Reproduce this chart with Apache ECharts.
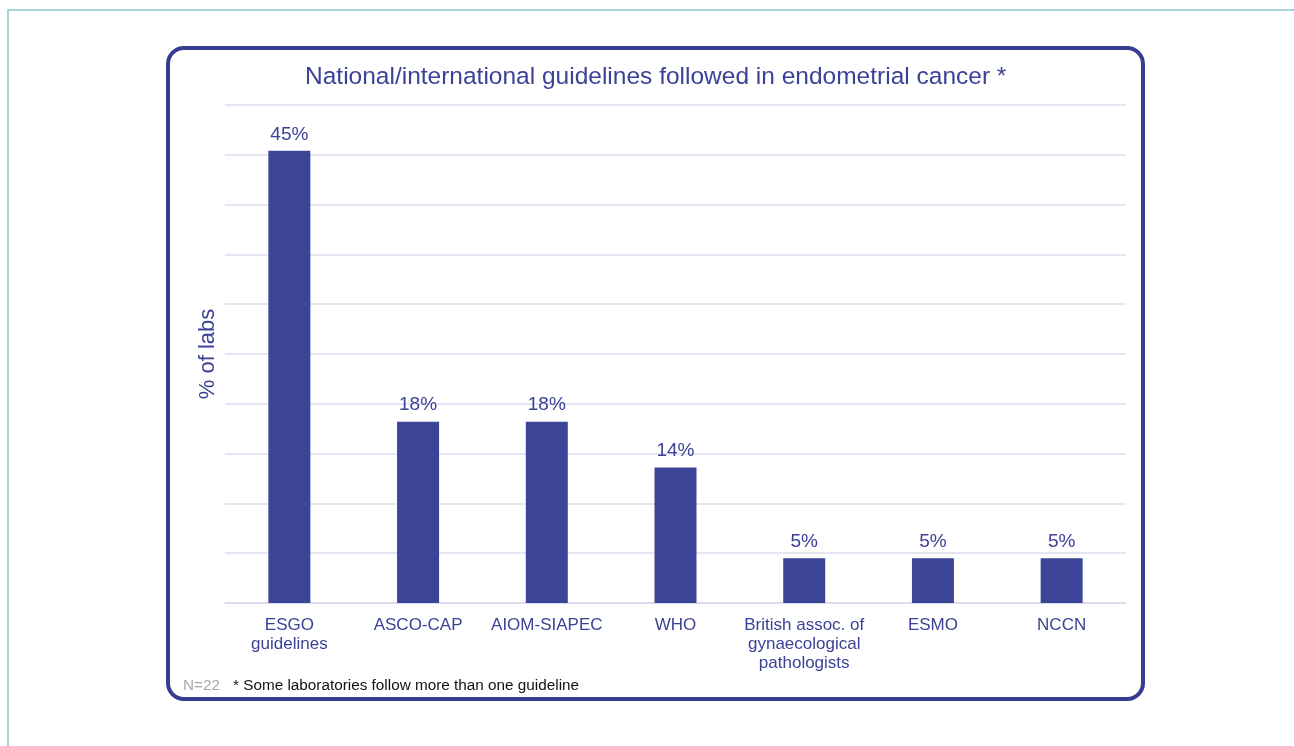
<!DOCTYPE html>
<html>
<head>
<meta charset="utf-8">
<script src="https://cdn.jsdelivr.net/npm/echarts@6/dist/echarts.min.js"></script>
<style>
html,body{margin:0;padding:0;background:#fff;}
#chart{width:1294px;height:746px;}
</style>
</head>
<body>
<div id="chart"></div>
<script>
const categories = ['ESGO\nguidelines', 'ASCO-CAP', 'AIOM-SIAPEC', 'WHO', 'British assoc. of\ngynaecological\npathologists', 'ESMO', 'NCCN'];
const values = [45.4, 18.2, 18.2, 13.6, 4.5, 4.5, 4.5];
const valueLabels = ['45%', '18%', '18%', '14%', '5%', '5%', '5%'];
const titleText = 'National/international guidelines followed in endometrial cancer *';
const yAxisName = '% of labs';
const sampleNote = 'N=22';
const footnote = '* Some laboratories follow more than one guideline';

const FONT = '"Liberation Sans", Arial, sans-serif';
const BLUE = '#3b4296';
const chart = echarts.init(document.getElementById('chart'));
chart.setOption({
  animation: false,
  backgroundColor: '#fff',
  textStyle: { fontFamily: FONT },
  graphic: [
    { type: 'rect', z: -10, shape: { x: 8, y: 10, width: 1400, height: 800 },
      style: { fill: 'none', stroke: '#a9d2d8', lineWidth: 2 } },
    { type: 'rect', z: -5, shape: { x: 168, y: 48, width: 975, height: 651, r: 16 },
      style: { fill: '#fff', stroke: '#363c92', lineWidth: 4 } },
    { type: 'text', left: 183, top: 678, style: { text: sampleNote, fill: '#a8a8a8', font: '15.3px ' + FONT } },
    { type: 'text', left: 233, top: 678, style: { text: footnote, fill: '#111', font: '15.3px ' + FONT } }
  ],
  title: {
    text: titleText, left: 300, top: 60,
    textStyle: { color: BLUE, fontSize: 24.5, fontWeight: 'normal', fontFamily: FONT }
  },
  grid: { left: 225, right: 168, top: 105, bottom: 143, containLabel: false },
  xAxis: {
    type: 'category', data: categories,
    axisLine: { lineStyle: { color: '#d9d9f0', width: 1.5 } },
    axisTick: { show: false },
    axisLabel: { color: BLUE, fontSize: 17, lineHeight: 19, margin: 13, interval: 0, fontFamily: FONT }
  },
  yAxis: {
    type: 'value', min: 0, max: 50, interval: 5,
    name: yAxisName, nameLocation: 'middle', nameGap: 6, nameRotate: 90,
    nameTextStyle: { color: BLUE, fontSize: 22, fontFamily: FONT },
    axisLabel: { show: false },
    axisLine: { show: false }, axisTick: { show: false },
    splitLine: { lineStyle: { color: '#dcdcf0', width: 1.5 } }
  },
  series: [{
    type: 'bar', data: values, barWidth: 42,
    itemStyle: { color: '#3c4497' },
    label: {
      show: true, position: 'top', distance: 7, color: BLUE, fontSize: 19, fontFamily: FONT,
      formatter: p => valueLabels[p.dataIndex]
    }
  }]
});
</script>
</body>
</html>
